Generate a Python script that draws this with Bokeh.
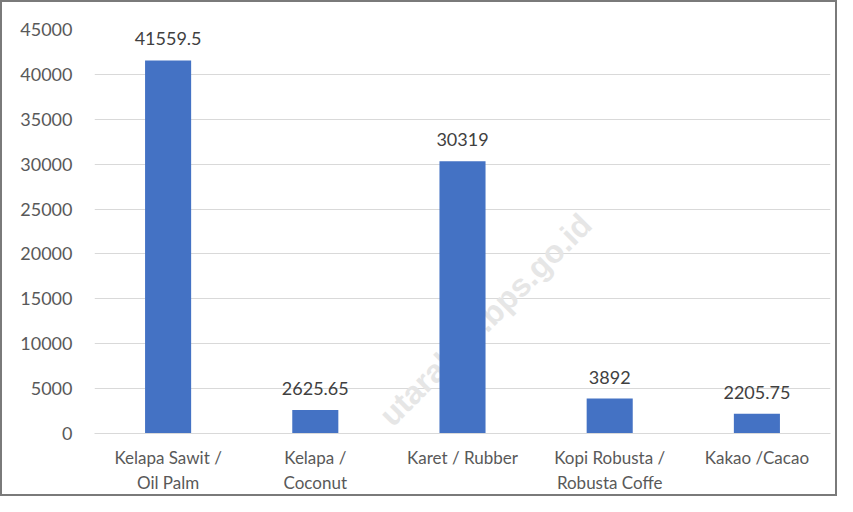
from bokeh.plotting import figure
from bokeh.models import ColumnDataSource, Label, SingleIntervalTicker, NumeralTickFormatter
from bokeh.core.properties import value
from bokeh.embed import file_html
from bokeh.resources import INLINE

categories = ["Kelapa Sawit /\nOil Palm", "Kelapa /\nCoconut", "Karet / Rubber",
              "Kopi Robusta /\nRobusta Coffe", "Kakao /Cacao"]
values = [41559.5, 2625.65, 30319, 3892, 2205.75]
labels = ["41559.5", "2625.65", "30319", "3892", "2205.75"]

src = ColumnDataSource(dict(cat=categories, val=values, lab=labels))

FONT = "Lato"

p = figure(x_range=categories, y_range=(0, 45000), width=837, height=496,
           output_backend="svg", toolbar_location=None,
           min_border_left=92, min_border_right=9, min_border_top=27, min_border_bottom=65)
p.outline_line_color = None
p.styles = {"border": "2px solid #7a7a7a", "box-sizing": "border-box"}

wm = Label(x=2.656, y=12681, text="utarakab.bps.go.id", angle=45, angle_units="deg",
           text_align="center", text_baseline="middle", text_font="Liberation Sans",
           text_font_style="bold", text_font_size="32px", text_color="#e6e6e6",
           level="underlay")
p.add_layout(wm)

p.vbar(x="cat", top="val", width=0.313, source=src, color="#4472C4", line_color=None)
p.text(x="cat", y="val", text="lab", source=src, text_align="center", text_baseline="bottom",
       y_offset=-15, text_font=value(FONT), text_font_size="18px", text_color="#404040")

p.yaxis.ticker = SingleIntervalTicker(interval=5000)
p.yaxis.formatter = NumeralTickFormatter(format="0")
p.yaxis.axis_line_color = None
p.yaxis.major_tick_line_color = None
p.yaxis.minor_tick_line_color = None
p.yaxis.major_label_standoff = 16
p.yaxis.major_label_text_font = FONT
p.yaxis.major_label_text_font_size = "18px"
p.yaxis.major_label_text_color = "#595959"

p.xaxis.axis_line_color = "#d9d9d9"
p.xaxis.major_tick_line_color = None
p.xaxis.minor_tick_line_color = None
p.xaxis.major_label_standoff = 7
p.xaxis.major_label_text_font = FONT
p.xaxis.major_label_text_font_size = "17px"
p.xaxis.major_label_text_color = "#595959"

p.xgrid.grid_line_color = None
p.ygrid.grid_line_color = "#d9d9d9"
p.ygrid.grid_line_width = 1

open("out.html", "w").write(file_html(p, INLINE))
